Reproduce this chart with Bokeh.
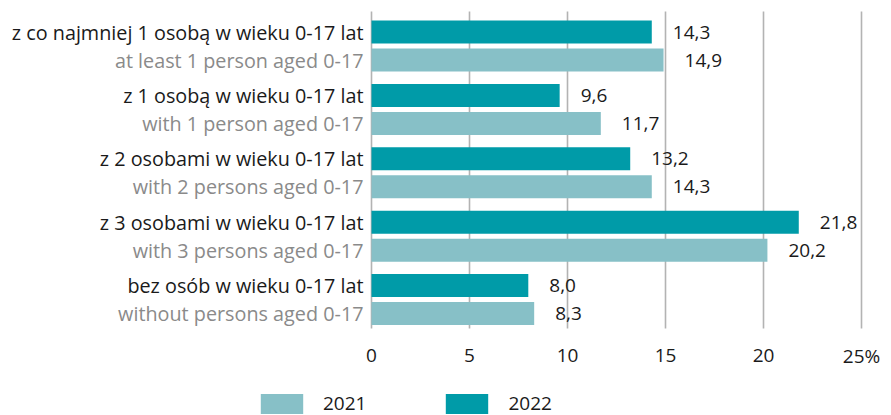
from bokeh.plotting import figure
from bokeh.models import (ColumnDataSource, Range1d, LabelSet, Legend, LegendItem)
from bokeh.core.properties import value
from bokeh.embed import file_html
from bokeh.resources import INLINE

# ---- data ----
cat_pl = ["z co najmniej 1 osobą w wieku 0-17 lat",
          "z 1 osobą w wieku 0-17 lat",
          "z 2 osobami w wieku 0-17 lat",
          "z 3 osobami w wieku 0-17 lat",
          "bez osób w wieku 0-17 lat"]
cat_en = ["at least 1 person aged 0-17",
          "with 1 person aged 0-17",
          "with 2 persons aged 0-17",
          "with 3 persons aged 0-17",
          "without persons aged 0-17"]
v2022 = [14.3, 9.6, 13.2, 21.8, 8.0]
v2021 = [14.9, 11.7, 14.3, 20.2, 8.3]
x_ticks = [0, 5, 10, 15, 20, 25]
x_tick_labels = ["0", "5", "10", "15", "20", "25%"]
years = ["2021", "2022"]

C2022 = "#009ba8"
C2021 = "#87c0c7"
FONT = "Open Sans"
FS_CAT = "19.8px"
FS_NUM = "19px"

# ---- layout constants (pixels) ----
W, H = 891, 415
PX = 19.6      # pixels per unit on the x scale
X0 = 371       # pixel of value 0
GY0 = 45.5     # pixel of first group centre
GDY = 63.4     # pixels between groups
def ypix(py):  # pixel row -> data y
    return (py - GY0) / GDY

idx = list(range(len(cat_pl)))
off = 14 / GDY
fmt = lambda x: f"{x:.1f}".replace(".", ",")
src22 = ColumnDataSource(dict(y=[i - off for i in idx], v=v2022,
                              lab=[fmt(x) for x in v2022],
                              cat=cat_pl, z=[0] * len(idx)))
src21 = ColumnDataSource(dict(y=[i + off for i in idx], v=v2021,
                              lab=[fmt(x) for x in v2021],
                              cat=cat_en, z=[0] * len(idx)))
grid_src = ColumnDataSource(dict(x=x_ticks, lab=x_tick_labels,
                                 y0=[ypix(11)] * len(x_ticks),
                                 y1=[ypix(328)] * len(x_ticks),
                                 yl=[ypix(355)] * len(x_ticks)))

p = figure(width=W, height=H, output_backend="svg", toolbar_location=None,
           x_range=Range1d(-X0 / PX, (W - X0) / PX),
           y_range=Range1d(ypix(H), ypix(0)),
           min_border=0, frame_width=W, frame_height=H)
p.outline_line_color = None
p.background_fill_color = "white"
p.border_fill_color = "white"
p.xaxis.visible = False
p.yaxis.visible = False
p.grid.visible = False

# grid lines at the tick values
p.segment(x0="x", x1="x", y0="y0", y1="y1", source=grid_src,
          line_color="#b3b3b3", line_width=1.6)

r21 = p.hbar(y="y", right="v", left=0, height=23 / GDY, source=src21,
             fill_color=C2021, line_color=None)
r22 = p.hbar(y="y", right="v", left=0, height=23 / GDY, source=src22,
             fill_color=C2022, line_color=None)

# tick labels
p.text(x="x", y="yl", text="lab", source=grid_src, text_align="center",
       text_baseline="middle", text_font=value(FONT), text_font_size=value(FS_NUM),
       text_color="#1a1a1a")

# value labels
for s in (src22, src21):
    p.add_layout(LabelSet(x="v", y="y", text="lab", source=s, x_offset=21,
                          text_baseline="middle", text_font=value(FONT),
                          text_font_size=value(FS_NUM), text_color="#1a1a1a"))

# category labels
p.add_layout(LabelSet(x="z", y="y", text="cat", source=src22, x_offset=-8,
                      text_align="right", text_baseline="middle",
                      text_font=value(FONT), text_font_size=value(FS_CAT),
                      text_color="#1a1a1a"))
p.add_layout(LabelSet(x="z", y="y", text="cat", source=src21, x_offset=-8,
                      text_align="right", text_baseline="middle",
                      text_font=value(FONT), text_font_size=value(FS_CAT),
                      text_color="#8a8a8a"))

legend = Legend(items=[LegendItem(label=years[0], renderers=[r21]),
                       LegendItem(label=years[1], renderers=[r22])],
                orientation="horizontal", location=(255, -1),
                glyph_width=53, glyph_height=25, label_standoff=15,
                spacing=74, padding=0, margin=0, border_line_color=None,
                background_fill_alpha=0, label_text_font=FONT,
                label_text_font_size=FS_NUM, label_text_color="#1a1a1a",
                label_height=23)
p.add_layout(legend)

open("out.html", "w").write(file_html(p, INLINE))
